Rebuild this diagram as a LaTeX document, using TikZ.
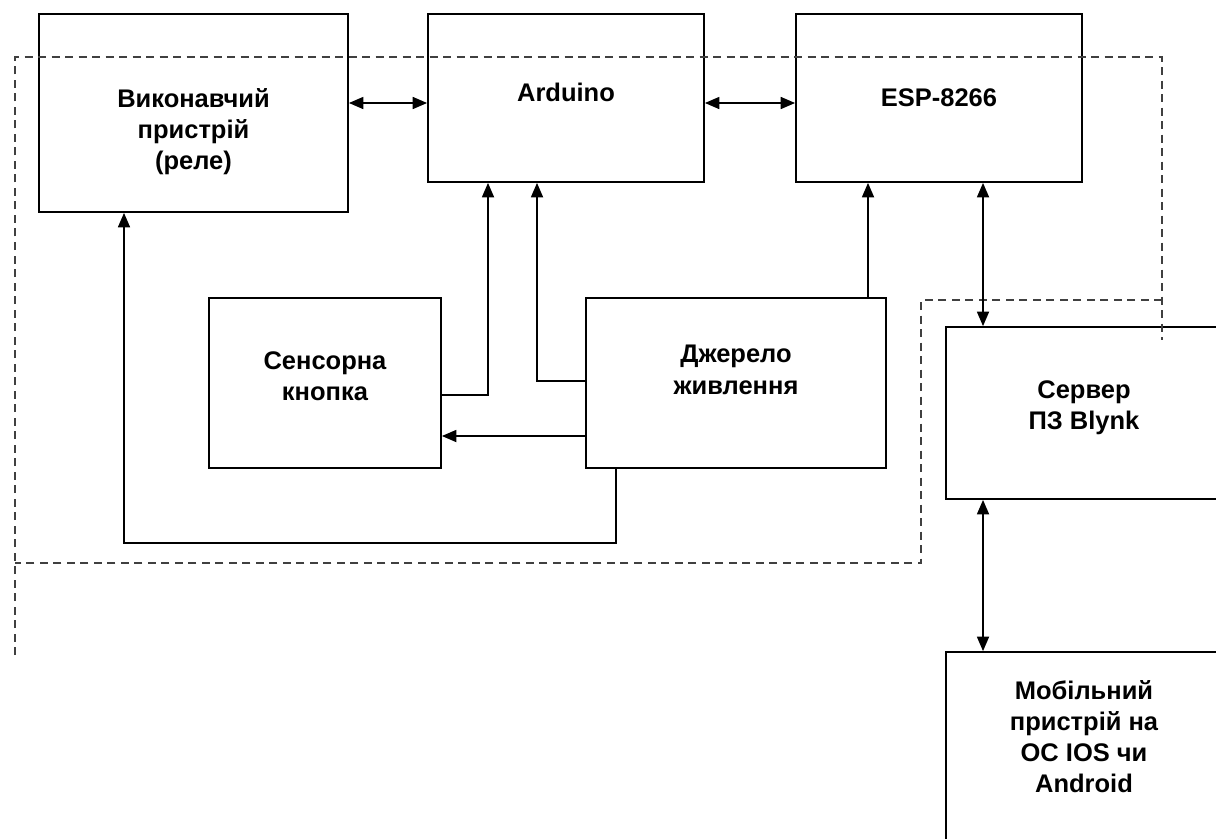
\documentclass[tikz,border=0pt]{standalone}
\usepackage{fontspec}
\setmainfont{Liberation Sans}
\usetikzlibrary{arrows.meta}

\begin{document}
\begin{tikzpicture}[
    x=0.2mm, y=-0.2mm,
    block/.style={draw, line width=1pt, align=center, font=\fontsize{14.5}{17.8}\selectfont\bfseries},
    link/.style={-{Triangle[length=2.9mm,width=2.4mm]}, line width=1pt},
    both/.style={{Triangle[length=2.9mm,width=2.4mm]}-{Triangle[length=2.9mm,width=2.4mm]}, line width=1pt},
    frame/.style={black!75, line width=0.9pt, dash pattern=on 1.6mm off 1.1mm}
]
\useasboundingbox (0,0) rectangle (1216,838);
\clip (0,0) rectangle (1216,838);

\node[block, minimum width=61.8mm, minimum height=39.6mm] (relay) at (193.5,113) {\rule{0pt}{32pt}Виконавчий\\пристрій\\(реле)};
\node[block, minimum width=55.2mm, minimum height=33.6mm] (ard) at (566,98) {Arduino\rule[-7pt]{0pt}{7pt}};
\node[block, minimum width=57.2mm, minimum height=33.6mm] (esp) at (939,98) {ESP-8266};
\node[block, minimum width=46.4mm, minimum height=34mm] (sens) at (325,383) {Сенсорна\\кнопка\rule[-8pt]{0pt}{8pt}};
\node[block, minimum width=60mm, minimum height=34mm] (pow) at (736,383) {Джерело\\живлення\rule[-15pt]{0pt}{15pt}};
\node[block, minimum width=55.2mm, minimum height=34.4mm] (serv) at (1084,413) {Сервер\\ПЗ Blynk\rule[-9pt]{0pt}{9pt}};
\node[block, minimum width=55.2mm, minimum height=38.6mm] (mob) at (1084,748.5) {Мобільний\\пристрій на\\ОС IOS чи\\Android\rule[-13.6pt]{0pt}{13.6pt}};

% dashed outline of the device
\draw[frame] (15,655) -- (15,57) -- (1162,57) -- (1162,340);
\draw[frame] (1162,300) -- (921,300) -- (921,563) -- (15,563);

\draw[both] ([yshift=-1mm]ard.west -| relay.east) -- ([yshift=-1mm]ard.west);
\draw[both] ([yshift=-1mm]ard.east) -- ([yshift=-1mm]esp.west);
\draw[link] ([yshift=-2.4mm]sens.east) -| ([xshift=-15.6mm]ard.south);
\draw[link] ([yshift=0.4mm]pow.west) -| ([xshift=-5.8mm]ard.south);
\draw[link] ([yshift=-10.6mm]pow.west) -- ([yshift=-10.6mm]sens.east);
\draw[link] ([xshift=26.4mm]pow.north) -- ([xshift=-14.2mm]esp.south);
\draw[link] ([xshift=-24mm]pow.south) -- ++(0,74) -| ([xshift=-13.9mm]relay.south);
\draw[both] ([xshift=8.8mm]esp.south) -- ([xshift=-20.2mm]serv.north);
\draw[both] ([xshift=-20.2mm]serv.south) -- ([xshift=-20.2mm]mob.north);
\end{tikzpicture}
\end{document}
